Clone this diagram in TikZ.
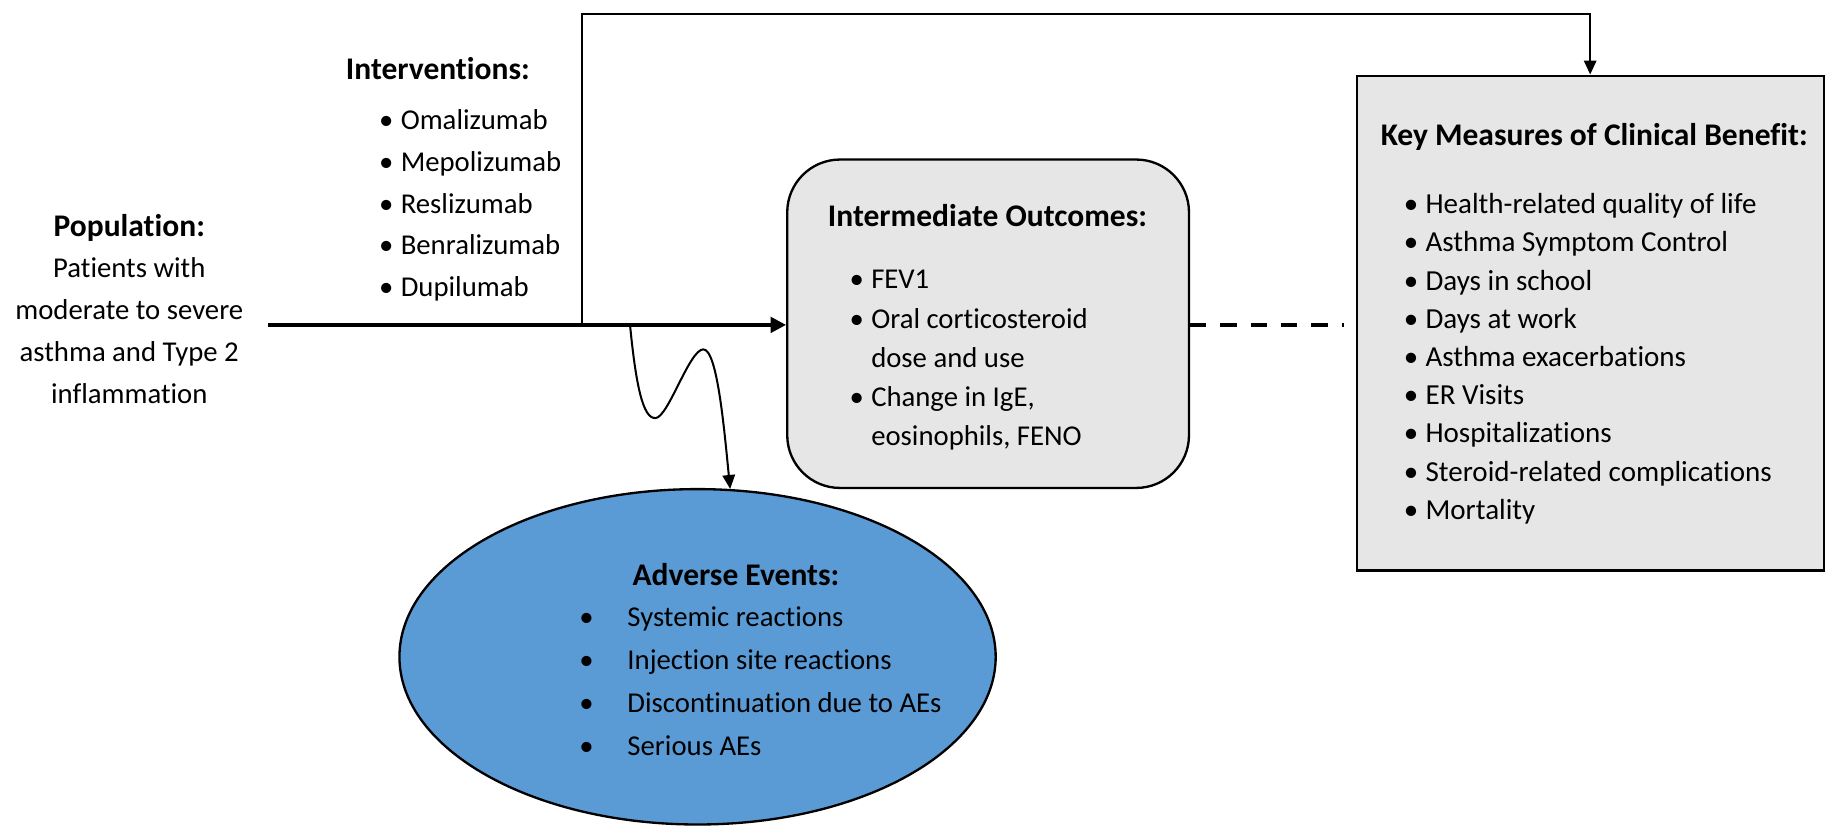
\documentclass[tikz,border=0pt]{standalone}
\usepackage{fontspec}
\setmainfont{Carlito}[Ligatures=NoCommon]
\usetikzlibrary{arrows.meta,shapes.geometric}

\definecolor{boxgray}{RGB}{230,230,230}
\definecolor{aeblue}{RGB}{91,155,213}

\tikzset{every picture/.style={line width=0.75pt}}
\tikzset{
  txt/.style={inner sep=0pt, align=left},
  ttl/.style={inner sep=0pt, font=\fontsize{20.3}{24}\selectfont\bfseries},
  conn/.style={line width=1.3pt, -{Triangle[length=9pt,width=8pt]}},
}
\newcommand{\itm}[2][14pt]{\makebox[#1][l]{\textbullet}#2}

\begin{document}
\begin{tikzpicture}[x=0.75pt,y=0.75pt,yscale=-1,xscale=1]
\useasboundingbox (0,0) rectangle (1568,710);

%Shape: Rounded Rect [id:intermediate]
\node[draw, line width=1.5pt, fill=boxgray, rounded corners=34pt, minimum width=258.75pt, minimum height=211.5pt] (inter) at (848.5,278) {};
%Shape: Rectangle [id:keymeasures]
\node[draw, line width=1.5pt, fill=boxgray, minimum width=300.75pt, minimum height=318.75pt] (key) at (1365.5,277.5) {};
%Shape: Ellipse [id:adverse]
\node[draw, ellipse, line width=1.5pt, fill=aeblue, minimum width=384pt, minimum height=216pt] (ae) at (599,564) {};

%Text
\node[txt, align=center, font=\fontsize{18.5}{26.9}\selectfont] (pop) at (111,265) {{\fontsize{20.3}{26.9}\selectfont\bfseries Population:}\\Patients with\\moderate to severe\\asthma and Type 2\\inflammation};
\node[ttl] (intervtitle) at (376,59) {Interventions:};
\node[txt, anchor=west, font=\fontsize{18.5}{26.8}\selectfont] (interv) at (325,176.5) {\itm{Omalizumab}\\\itm{Mepolizumab}\\\itm{Reslizumab}\\\itm{Benralizumab}\\\itm{Dupilumab}};
\node[ttl] (intertitle) at (848,185) {Intermediate Outcomes:};
\node[txt, anchor=west, font=\fontsize{18.5}{25.3}\selectfont] (interlist) at (729,309.5) {\itm{FEV1}\\\itm{Oral corticosteroid}\\\hspace{14pt}dose and use\\\itm{Change in IgE,}\\\hspace{14pt}eosinophils, FENO};
\node[ttl] (keytitle) at (1369,118) {Key Measures of Clinical Benefit:};
\node[txt, anchor=west, font=\fontsize{18.7}{24.6}\selectfont] (keylist) at (1205,308) {\itm{Health-related quality of life}\\\itm{Asthma Symptom Control}\\\itm{Days in school}\\\itm{Days at work}\\\itm{Asthma exacerbations}\\\itm{ER Visits}\\\itm{Hospitalizations}\\\itm{Steroid-related complications}\\\itm{Mortality}};
\node[ttl] (aetitle) at (632,493) {Adverse Events:};
\node[txt, anchor=west, font=\fontsize{18.5}{27.5}\selectfont] (aelist) at (497,585) {\itm[31pt]{Systemic reactions}\\\itm[31pt]{Injection site reactions}\\\itm[31pt]{Discontinuation due to AEs}\\\itm[31pt]{Serious AEs}};

%Straight Lines
\coordinate (src) at (230,279);
\coordinate (br) at (500,279);
\coordinate (top) at (500,12);
\draw[line width=2.25pt, -{Triangle[length=10pt,width=10pt]}] (src) -- (src -| inter.west);
\draw[conn] (br) -- (top) -| (key.north);
\draw[line width=2.25pt, dash pattern=on 10.5pt off 9pt, shorten >=7.5pt] (src -| inter.east) -- (src -| key.west);

%Curve Lines
\coordinate (ws) at (541,279);
\draw[conn] (ws) .. controls (546,330) and (552,360) .. (563,359) .. controls (574,358) and (592,300) .. (604,300) .. controls (616,300) and (622,370) .. (ae.79);

\end{tikzpicture}
\end{document}
